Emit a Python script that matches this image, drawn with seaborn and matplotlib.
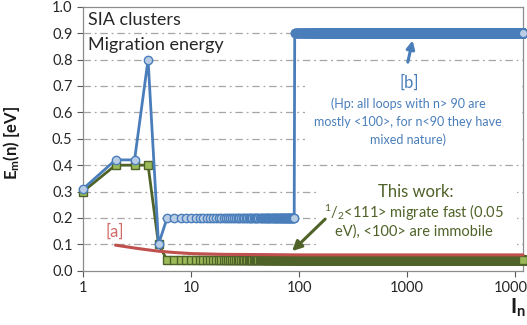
import numpy as np
import pandas as pd
import matplotlib
matplotlib.use('Agg')
import matplotlib.pyplot as plt
from matplotlib.patches import Rectangle
import seaborn as sns

# ================================
# Data
# ================================
sizes_small = [1, 2, 3, 4, 5]
blue_small = [0.31, 0.42, 0.42, 0.80, 0.10]    # [b] first points
green_small = [0.30, 0.40, 0.40, 0.40, 0.10]   # this work, first points
n_mixed_end = 90        # last n with mixed nature
n_max = 11800           # last cluster size on the axis
blue_mixed = 0.20       # [b] for 6 <= n <= 90
blue_loops = 0.90       # [b] for n > 90
green_rest = 0.04       # this work for n >= 6
red_sizes = [2, 3, 4, 5, 7, 10, 20, 50, 100, 1000, 11800]
red_energy = [0.097, 0.086, 0.079, 0.074, 0.069, 0.065, 0.062, 0.061, 0.060, 0.060, 0.060]

y_ticks = [0.0, 0.1, 0.2, 0.3, 0.4, 0.5, 0.6, 0.7, 0.8, 0.9, 1.0]
x_ticks = [1, 10, 100, 1000, 10000]
x_ticklabels = ['1', '10', '100', '1000', '10000']

# build the series tables
mid = list(range(6, n_mixed_end + 1))
big = list(range(n_mixed_end + 1, n_max + 1))
blue = pd.DataFrame({'n': sizes_small + mid + big,
                     'E': blue_small + [blue_mixed] * len(mid) + [blue_loops] * len(big)})
green = pd.DataFrame({'n': sizes_small + mid + big,
                      'E': green_small + [green_rest] * (len(mid) + len(big))})
red = pd.DataFrame({'n': red_sizes, 'E': red_energy})

# ================================
# Style
# ================================
sns.set_theme(style='white')
plt.rcParams['font.family'] = ['Lato', 'DejaVu Sans']
plt.rcParams['mathtext.fontset'] = 'custom'
plt.rcParams['mathtext.rm'] = 'Lato'
plt.rcParams['mathtext.it'] = 'Lato:italic'
plt.rcParams['mathtext.bf'] = 'Lato:bold'

c_blue, c_blue_face = '#4a7ebb', '#b9cde5'
c_green, c_green_face = '#4f6228', '#9bbb59'
c_red = '#c0504d'
c_grid = '#a6a6a6'

fig = plt.figure(figsize=(5.27, 3.25), dpi=100)
ax = fig.add_axes([0.1575, 0.167, 0.835, 0.812])

sns.lineplot(data=green, x='n', y='E', ax=ax, color=c_green, linewidth=2.0,
             marker='s', markersize=5.2, markerfacecolor=c_green_face,
             markeredgecolor=c_green, markeredgewidth=1.0,
             estimator=None, sort=False, clip_on=False, zorder=3)
sns.lineplot(data=red, x='n', y='E', ax=ax, color=c_red, linewidth=2.2,
             estimator=None, sort=False, clip_on=False, zorder=4)
sns.lineplot(data=blue, x='n', y='E', ax=ax, color=c_blue, linewidth=2.0,
             marker='o', markersize=6, markerfacecolor=c_blue_face,
             markeredgecolor=c_blue, markeredgewidth=1.0,
             estimator=None, sort=False, clip_on=False, zorder=5)

ax.set_xscale('log')
ax.set_xlim(1, n_max)
ax.set_ylim(0, 1.0)
ax.set_xticks(x_ticks)
ax.set_xticklabels(x_ticklabels)
ax.xaxis.set_minor_locator(matplotlib.ticker.NullLocator())
ax.set_yticks(y_ticks)
ax.set_yticklabels([f'{v:.1f}' for v in y_ticks])
ax.tick_params(axis='both', which='major', labelsize=10.5, colors='#595959',
               labelcolor='#262626', length=4, width=0.8, direction='out',
               bottom=True, left=True)

for v in y_ticks[1:-1]:
    ax.axhline(v, color=c_grid, linewidth=0.9, dashes=(6, 3, 1.5, 3), zorder=1)
for s in ax.spines.values():
    s.set_color('#8c8c8c')
    s.set_linewidth(0.9)

# white text boxes hide the grid behind the notes
blend = ax.get_yaxis_transform()
ax.add_patch(Rectangle((0.505, 0.46), 0.49, 0.29, transform=blend,
                       facecolor='white', edgecolor='none', zorder=2))
ax.add_patch(Rectangle((0.532, 0.085), 0.455, 0.245, transform=blend,
                       facecolor='white', edgecolor='none', zorder=2))

ax.set_ylabel(r'$\mathbf{E_m}$(n) [eV]', fontsize=12, fontweight='bold', color='#1a1a1a')
ax.yaxis.set_label_coords(-0.139, 0.484)
ax.set_xlabel(r'$\mathbf{I_n}$', fontsize=15, color='#1a1a1a')
ax.xaxis.set_label_coords(0.989, -0.10)

# ================================
# Annotations
# ================================
ax.text(1.11, 0.95, 'SIA clusters', fontsize=13, color='#262626', va='center', ha='left')
ax.text(1.11, 0.855, 'Migration energy', fontsize=13, color='#262626', va='center', ha='left')

ax.text(1044, 0.714, '[b]', fontsize=12, color=c_blue, ha='center', va='center', zorder=6)
ax.text(1021, 0.563, '(Hp: all loops with n> 90 are\nmostly <100>, for n<90 they have\nmixed nature)',
        fontsize=9, color=c_blue, ha='center', va='center', linespacing=1.55, zorder=6)
ax.annotate('', xy=(1136, 0.883), xytext=(1000, 0.78),
            arrowprops=dict(arrowstyle='-|>', color=c_blue, lw=2.2, mutation_scale=12),
            zorder=6)

ax.text(1211, 0.30, 'This work:', fontsize=12, color=c_green, ha='center', va='center', zorder=6)
ax.text(1150, 0.218, r'$^{1}/_{2}$<111> migrate fast (0.05', fontsize=10.5,
        color=c_green, ha='center', va='center', zorder=6)
ax.text(1150, 0.15, 'eV), <100> are immobile', fontsize=10.5,
        color=c_green, ha='center', va='center', zorder=6)
ax.annotate('', xy=(82.5, 0.067), xytext=(181.7, 0.203),
            arrowprops=dict(arrowstyle='-|>', color=c_green, lw=2.2, mutation_scale=14),
            zorder=6)

ax.text(1.98, 0.147, '[a]', fontsize=12, color='#d06b68', ha='center', va='center')

fig.savefig('out.png', dpi=100)
